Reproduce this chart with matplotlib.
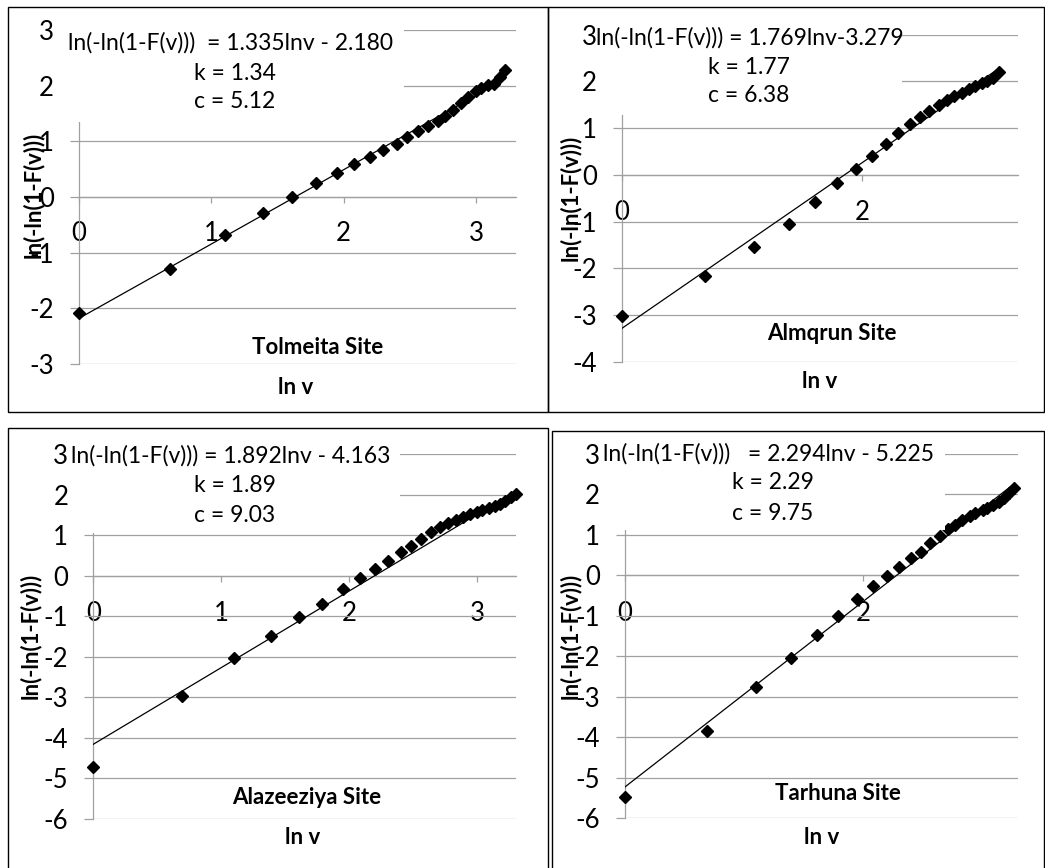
import matplotlib
matplotlib.use('Agg')
import matplotlib.pyplot as plt
from matplotlib.patches import Rectangle
import numpy as np

W, H = 1045, 868
plt.rcParams['font.family'] = ['Lato', 'DejaVu Sans']
plt.rcParams['axes.unicode_minus'] = False

# ---------------- data ----------------
lnv_tolmeita = [0.00, 0.69, 1.10, 1.39, 1.61, 1.79, 1.95, 2.08, 2.20, 2.30, 2.40, 2.48, 2.56,
                2.64, 2.71, 2.77, 2.83, 2.89, 2.94, 3.00, 3.04, 3.09, 3.14, 3.18, 3.22]
y_tolmeita = [-2.08, -1.29, -0.69, -0.28, 0.00, 0.25, 0.43, 0.59, 0.72, 0.84, 0.96, 1.08, 1.18,
              1.27, 1.36, 1.46, 1.57, 1.69, 1.80, 1.90, 1.96, 2.01, 2.03, 2.15, 2.29]

lnv_almqrun = [0.00, 0.69, 1.10, 1.39, 1.61, 1.79, 1.95, 2.08, 2.20, 2.30, 2.40, 2.48, 2.56,
               2.64, 2.71, 2.77, 2.83, 2.89, 2.94, 3.00, 3.04, 3.09, 3.14]
y_almqrun = [-3.01, -2.16, -1.54, -1.05, -0.58, -0.18, 0.13, 0.41, 0.66, 0.89, 1.08, 1.24, 1.37,
             1.50, 1.61, 1.68, 1.76, 1.84, 1.90, 1.97, 2.01, 2.07, 2.20]

lnv_alazeeziya = [0.00, 0.69, 1.10, 1.39, 1.61, 1.79, 1.95, 2.08, 2.20, 2.30, 2.40, 2.48, 2.56,
                  2.64, 2.71, 2.77, 2.83, 2.89, 2.94, 3.00, 3.04, 3.09, 3.14, 3.18, 3.22, 3.26, 3.30]
y_alazeeziya = [-4.72, -2.96, -2.03, -1.49, -1.03, -0.69, -0.32, -0.07, 0.17, 0.36, 0.57, 0.73, 0.91,
                1.08, 1.21, 1.30, 1.38, 1.45, 1.53, 1.58, 1.63, 1.67, 1.72, 1.76, 1.84, 1.93, 2.01]

lnv_tarhuna = [0.00, 0.69, 1.10, 1.39, 1.61, 1.79, 1.95, 2.08, 2.20, 2.30, 2.40, 2.48, 2.56,
               2.64, 2.71, 2.77, 2.83, 2.89, 2.94, 3.00, 3.04, 3.09, 3.14, 3.18, 3.22, 3.26]
y_tarhuna = [-5.47, -3.84, -2.75, -2.03, -1.47, -1.01, -0.58, -0.27, -0.02, 0.21, 0.43, 0.59, 0.80,
             0.97, 1.14, 1.25, 1.38, 1.47, 1.54, 1.61, 1.66, 1.73, 1.81, 1.92, 2.03, 2.15]

sites = ['Tolmeita Site', 'Almqrun Site', 'Alazeeziya Site', 'Tarhuna Site']
slopes = [1.335, 1.769, 1.892, 2.294]
intercepts = [-2.180, -3.279, -4.163, -5.225]
k_values = ['1.34', '1.77', '1.89', '2.29']
c_values = ['5.12', '6.38', '9.03', '9.75']
equations = ['ln(-ln(1-F(v)))  = 1.335lnv - 2.180',
             'ln(-ln(1-F(v))) = 1.769lnv-3.279',
             'ln(-ln(1-F(v))) = 1.892lnv - 4.163',
             'ln(-ln(1-F(v)))   = 2.294lnv - 5.225']
y_ranges = [(-3, 3), (-4, 3), (-6, 3), (-6, 3)]
x_ticks = [[0, 1, 2, 3], [0, 2], [0, 1, 2, 3], [0, 2]]
xs_all = [lnv_tolmeita, lnv_almqrun, lnv_alazeeziya, lnv_tarhuna]
ys_all = [y_tolmeita, y_almqrun, y_alazeeziya, y_tarhuna]

# ---------------- layout (pixels) ----------------
plot_boxes = [(79, 515.6, 30, 364), (622, 1018, 34.6, 362),
              (93.3, 515.7, 454, 818.7), (625, 1018.4, 454, 818.3)]
frames = [(8, 7, 548, 412), (548, 7, 1044, 412), (8, 428, 548, 870), (552, 431, 1044, 870)]
white_boxes = [(60, 9, 404, 122), (598, 9, 902, 115), (70, 430, 400, 533), (603, 433, 945, 530)]
eq_pos = [(68, 43), (596, 38), (71, 455.7), (603, 454.3)]
k_pos = [(194, 73), (708, 67), (194, 485), (732, 483)]
c_pos = [(194, 102), (708, 96), (194, 515), (732, 513)]
site_pos = [(318, 347), (832, 333), (307, 798), (838, 793)]
lnv_pos = [(296, 388), (820, 382), (303, 838), (822, 838)]
ylab_pos = [(33, 195), (570, 198), (30, 636), (570, 636)]
xlab_pad = [12.9, 13.8, 14.0, 14.0]

GRID = '#a0a0a0'
FS = 16.5
TFS = 18.5
BFS = 16


def fx(x):
    return x / W


def fy(y):
    return 1 - y / H


fig = plt.figure(figsize=(W / 100, H / 100), dpi=100)
fig.patch.set_facecolor('white')

for i in range(4):
    l, r, t, b = plot_boxes[i]
    ax = fig.add_axes([fx(l), fy(b), (r - l) / W, (b - t) / H])
    ax.set_facecolor('none')
    ymin, ymax = y_ranges[i]
    ax.set_xlim(0, 3.3)
    ax.set_ylim(ymin, ymax)
    ax.set_yticks(range(ymin, ymax + 1))
    ax.set_xticks(x_ticks[i])
    ax.yaxis.grid(True, color=GRID, lw=0.9)
    ax.set_axisbelow(True)
    for s in ['top', 'right']:
        ax.spines[s].set_visible(False)
    ax.spines['left'].set_color(GRID)
    ax.spines['left'].set_linewidth(0.9)
    ax.spines['bottom'].set_position(('data', 0))
    ax.spines['bottom'].set_color(GRID)
    ax.spines['bottom'].set_linewidth(0.9)
    ax.tick_params(axis='y', direction='out', length=6.5, width=0.9, color=GRID,
                   pad=11.5, labelsize=TFS, labelcolor='black')
    ax.tick_params(axis='x', direction='out', length=4.3, width=0.9, color=GRID,
                   pad=xlab_pad[i], labelsize=TFS, labelcolor='black')

    xs = np.array(xs_all[i])
    ys = np.array(ys_all[i])
    xl = np.array([xs[0], xs[-1]])
    ax.plot(xl, slopes[i] * xl + intercepts[i], color='black', lw=0.9, zorder=3)
    ax.plot(xs, ys, 'D', color='black', ms=6.5, zorder=4, clip_on=False)

    # white box behind regression text
    x0, y0, x1, y1 = white_boxes[i]
    fig.add_artist(Rectangle((fx(x0), fy(y1)), (x1 - x0) / W, (y1 - y0) / H,
                             transform=fig.transFigure, facecolor='white',
                             edgecolor='none', zorder=1))
    fig.text(fx(eq_pos[i][0]), fy(eq_pos[i][1]), equations[i], ha='left', va='center',
             fontsize=FS, zorder=3)
    fig.text(fx(k_pos[i][0]), fy(k_pos[i][1]), 'k = ' + k_values[i], ha='left',
             va='center', fontsize=FS, zorder=3)
    fig.text(fx(c_pos[i][0]), fy(c_pos[i][1]), 'c = ' + c_values[i], ha='left',
             va='center', fontsize=FS, zorder=3)
    fig.text(fx(site_pos[i][0]), fy(site_pos[i][1]), sites[i], ha='center', va='center',
             fontsize=BFS, fontweight='bold', zorder=3)
    fig.text(fx(lnv_pos[i][0]), fy(lnv_pos[i][1]), 'ln v', ha='center', va='center',
             fontsize=BFS, fontweight='bold', zorder=3)
    fig.text(fx(ylab_pos[i][0]), fy(ylab_pos[i][1]), 'ln(-ln(1-F(v)))', ha='center',
             va='center', rotation=90, fontsize=BFS, fontweight='bold', zorder=3)

    fx0, fy0, fx1, fy1 = frames[i]
    fig.add_artist(Rectangle((fx(fx0), fy(fy1)), (fx1 - fx0) / W, (fy1 - fy0) / H,
                             transform=fig.transFigure, fill=False, edgecolor='black',
                             lw=1.0, zorder=2))

fig.savefig('out.png', dpi=100, facecolor='white')
